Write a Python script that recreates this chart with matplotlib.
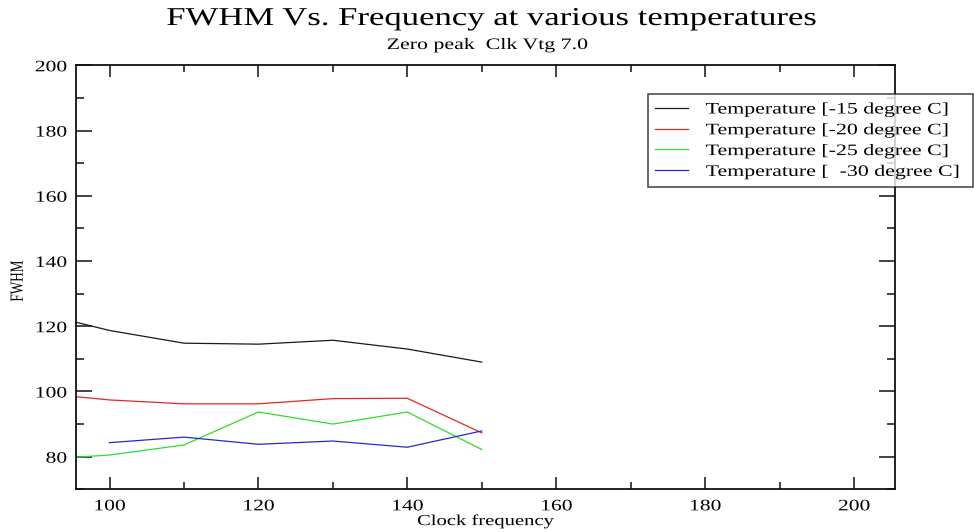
import matplotlib
matplotlib.use("Agg")
import matplotlib.pyplot as plt
from matplotlib.ticker import MultipleLocator
from matplotlib.patheffects import AbstractPathEffect
from matplotlib.path import Path

plt.rcParams['font.family'] = ['Liberation Serif', 'DejaVu Serif']

# Clock frequency sweep and measured FWHM per temperature
freq_a = [95, 100, 110, 120, 130, 140, 150]
fwhm_m15 = [121.5, 118.7, 114.8, 114.5, 115.7, 113.0, 109.0]
fwhm_m20 = [98.5, 97.4, 96.2, 96.2, 97.8, 97.9, 87.3]
fwhm_m25 = [79.8, 80.5, 83.6, 93.7, 90.0, 93.7, 82.2]
freq_b = [100, 110, 120, 130, 140, 150]
fwhm_m30 = [84.3, 86.0, 83.8, 84.8, 82.9, 87.9]

labels = ["Temperature [-15 degree C]", "Temperature [-20 degree C]",
          "Temperature [-25 degree C]", "Temperature [  -30 degree C]"]
colors = ["#1a1a1a", "#e02828", "#28e028", "#2828d0"]


class Stretch(AbstractPathEffect):
    """Widen glyph outlines along the text direction (sx) or across it (sy)."""

    def __init__(self, sx=1.0, sy=1.0, pivot='center'):
        super().__init__()
        self.sx, self.sy, self.pivot = sx, sy, pivot

    def draw_path(self, renderer, gc, tpath, affine, rgbFace=None):
        verts = tpath.vertices.copy()
        if len(verts):
            x0, x1 = verts[:, 0].min(), verts[:, 0].max()
            y0, y1 = verts[:, 1].min(), verts[:, 1].max()
            px = {'left': x0, 'center': 0.5 * (x0 + x1), 'right': x1}[self.pivot]
            py = 0.5 * (y0 + y1)
            verts[:, 0] = px + (verts[:, 0] - px) * self.sx
            verts[:, 1] = py + (verts[:, 1] - py) * self.sy
        renderer.draw_path(gc, Path(verts, tpath.codes), affine, rgbFace)


W, H = 974, 532
fig = plt.figure(figsize=(W / 100, H / 100), dpi=100)
L, R, T, B = 76, 895, 65.3, 489.3
ax = fig.add_axes([L / W, 1 - B / H, (R - L) / W, (B - T) / H])

ax.plot(freq_a, fwhm_m15, color=colors[0], lw=0.9, label=labels[0])
ax.plot(freq_a, fwhm_m20, color=colors[1], lw=0.9, label=labels[1])
ax.plot(freq_a, fwhm_m25, color=colors[2], lw=0.9, label=labels[2])
ax.plot(freq_b, fwhm_m30, color=colors[3], lw=0.9, label=labels[3])

ax.set_xlim(95.5, 205.5)
ax.set_ylim(70, 200)
ax.xaxis.set_major_locator(MultipleLocator(20))
ax.xaxis.set_minor_locator(MultipleLocator(10))
ax.yaxis.set_major_locator(MultipleLocator(20))
ax.yaxis.set_minor_locator(MultipleLocator(10))
ax.tick_params(which='both', direction='in', top=True, right=True,
               labelsize=11.5, color='#111111')
ax.tick_params(axis='x', which='major', length=8.6, width=1.1, pad=6.5)
ax.tick_params(axis='x', which='minor', length=4.8, width=1.1)
ax.tick_params(axis='y', which='major', length=11.3, width=1.1, pad=6.5)
ax.tick_params(axis='y', which='minor', length=6.0, width=1.1)
for s in ax.spines.values():
    s.set_linewidth(1.3)
    s.set_color('#111111')

tick_sx = 1.35
for t in ax.xaxis.get_major_ticks():
    t.label1.set_path_effects([Stretch(sx=tick_sx, pivot='center')])
for t in ax.yaxis.get_major_ticks():
    t.label1.set_path_effects([Stretch(sx=tick_sx, pivot='right')])

ax.set_xlabel("Clock frequency", fontsize=11, labelpad=0,
              path_effects=[Stretch(sx=1.35, pivot='center')])
ax.set_ylabel("FWHM", fontsize=9.5,
              path_effects=[Stretch(sy=1.4, pivot='center')])
ax.yaxis.set_label_coords((18 - L) / (R - L), (B - 281) / (B - T))
ax.yaxis.label.set(ha='center', va='center', rotation_mode='default')

fig.text(492 / W, 1 - 25 / H, "FWHM Vs. Frequency at various temperatures",
         ha='center', va='baseline', fontsize=18.5,
         path_effects=[Stretch(sx=1.35, pivot='center')])
fig.text(487 / W, 1 - 49 / H, "Zero peak  Clk Vtg 7.0",
         ha='center', va='baseline', fontsize=11.5,
         path_effects=[Stretch(sx=1.37, pivot='center')])

lx0, lx1, ly0, ly1 = 648, 973, 94.3, 189.3
leg = fig.legend(loc='upper left',
                 bbox_to_anchor=(lx0 / W, 1 - ly1 / H, (lx1 - lx0) / W, (ly1 - ly0) / H),
                 mode='expand', fontsize=11.5, frameon=True, fancybox=False,
                 handlelength=2.06, labelspacing=0.3, borderpad=0.45,
                 handletextpad=1.1, borderaxespad=0)
leg.get_frame().set_edgecolor('#111111')
leg.get_frame().set_linewidth(1.1)
for txt in leg.get_texts():
    txt.set_path_effects([Stretch(sx=1.37, pivot='left')])

fig.savefig("out.png", dpi=100)
